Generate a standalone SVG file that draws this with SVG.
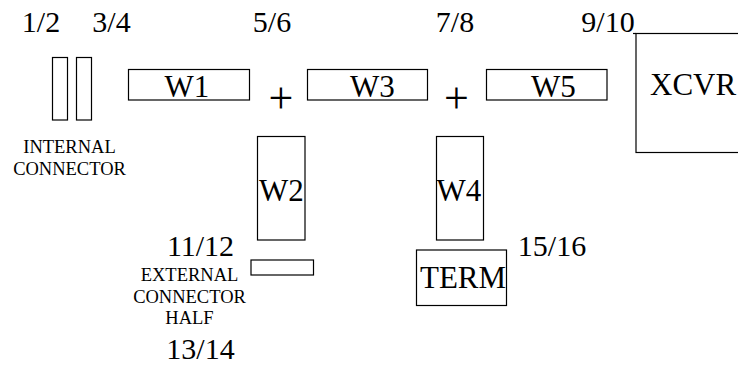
<svg xmlns="http://www.w3.org/2000/svg" width="738" height="365" viewBox="0 0 738 365">
  <rect width="738" height="365" fill="#fff"/>

  <!-- pin-pair labels -->
  <g id="pin-labels">
    <text x="41" y="32" font-size="30" text-anchor="middle" font-family="Times New Roman">1/2</text>
    <text x="111.5" y="32" font-size="30" text-anchor="middle" font-family="Times New Roman">3/4</text>
    <text x="272" y="32" font-size="30" text-anchor="middle" font-family="Times New Roman">5/6</text>
    <text x="455" y="32" font-size="30" text-anchor="middle" font-family="Times New Roman">7/8</text>
    <text x="608" y="32" font-size="30" text-anchor="middle" font-family="Times New Roman">9/10</text>
    <text x="200.5" y="256" font-size="30" text-anchor="middle" font-family="Times New Roman">11/12</text>
    <text x="552" y="255.5" font-size="30" text-anchor="middle" font-family="Times New Roman">15/16</text>
    <text x="200.5" y="359" font-size="30" text-anchor="middle" font-family="Times New Roman">13/14</text>
  </g>

  <!-- thin black outlines on white boxes -->
  <g stroke="#000" stroke-width="1.2" fill="#fff">
    <g id="internal-connector">
      <rect x="52.5" y="57.5" width="15" height="62.5"/>
      <rect x="76.5" y="57.5" width="15" height="62.5"/>
      <text x="69.5" y="153" fill="#000" stroke="none" font-size="18.5" text-anchor="middle" font-family="Times New Roman">INTERNAL</text>
      <text x="69.5" y="175" fill="#000" stroke="none" font-size="18.5" text-anchor="middle" font-family="Times New Roman">CONNECTOR</text>
    </g>

    <g id="w1">
      <rect x="128.5" y="69.5" width="121" height="30.5"/>
      <text x="164.5" y="97" fill="#000" stroke="none" font-size="31" font-family="Times New Roman">W1</text>
    </g>
    <g id="w3">
      <rect x="307.5" y="69.5" width="120" height="30.5"/>
      <text x="350" y="97" fill="#000" stroke="none" font-size="31" font-family="Times New Roman">W3</text>
    </g>
    <g id="w5">
      <rect x="486.5" y="69.5" width="120.5" height="30.5"/>
      <text x="531" y="97" fill="#000" stroke="none" font-size="31" font-family="Times New Roman">W5</text>
    </g>

    <g id="xcvr">
      <rect x="636" y="33.5" width="110" height="119"/>
      <line x1="633" y1="33.5" x2="636" y2="33.5"/>
      <text x="650" y="94.5" fill="#000" stroke="none" font-size="31" font-family="Times New Roman">XCVR</text>
    </g>

    <g id="w2">
      <rect x="257.5" y="136.5" width="47.5" height="103.5"/>
      <text x="259" y="201" fill="#000" stroke="none" font-size="31" font-family="Times New Roman">W2</text>
    </g>
    <g id="w4">
      <rect x="436.5" y="136.5" width="47" height="103.5"/>
      <text x="436.5" y="201" fill="#000" stroke="none" font-size="31" font-family="Times New Roman">W4</text>
    </g>

    <g id="external-connector-half">
      <rect x="251" y="260" width="62.5" height="15"/>
      <text x="189.5" y="281" fill="#000" stroke="none" font-size="18.5" text-anchor="middle" font-family="Times New Roman">EXTERNAL</text>
      <text x="189.5" y="302.5" fill="#000" stroke="none" font-size="18.5" text-anchor="middle" font-family="Times New Roman">CONNECTOR</text>
      <text x="189.5" y="324" fill="#000" stroke="none" font-size="18.5" text-anchor="middle" font-family="Times New Roman">HALF</text>
    </g>

    <g id="term">
      <rect x="416.5" y="250" width="90" height="55.5"/>
      <text x="420" y="287.5" fill="#000" stroke="none" font-size="31" font-family="Times New Roman">TERM</text>
    </g>
  </g>

  <!-- junction markers between cable runs -->
  <g id="connectors">
    <text x="281" y="112.5" font-size="44" text-anchor="middle" font-family="Times New Roman">+</text>
    <text x="456.5" y="112.5" font-size="44" text-anchor="middle" font-family="Times New Roman">+</text>
  </g>
</svg>
